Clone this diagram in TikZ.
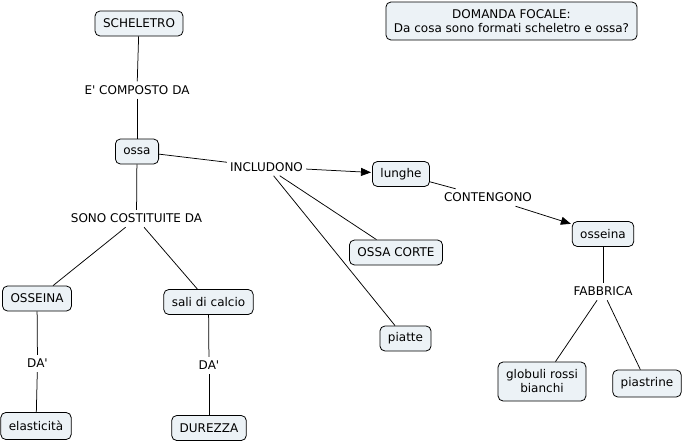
\documentclass[tikz,border=0pt]{standalone}
\usepackage{fontspec}
\setmainfont{DejaVu Sans}
\usetikzlibrary{arrows.meta}
\definecolor{boxfill}{RGB}{236,242,246}
\newcommand{\apos}{\XeTeXglyph\XeTeXcharglyph"27\relax}
\begin{document}
\begin{tikzpicture}[x=1pt,y=-1pt,
  concept/.style={draw=black, fill=boxfill, rounded corners=5pt, inner xsep=8pt, inner ysep=2pt,
    minimum height=25pt, align=center, font=\fontsize{12}{14}\selectfont, line width=0.8pt},
  linkword/.style={inner xsep=3pt, inner ysep=4pt, align=center, font=\fontsize{12}{14}\selectfont},
  conn/.style={line width=0.75pt, draw=black},
  arr/.style={conn, -{Triangle[length=10pt,width=8pt]}, shorten >=1pt}]
\useasboundingbox (0,0) rectangle (683,442);
% concepts
\node[concept] (schel) at (139,23.5) {SCHELETRO};
\node[concept] (ossa) at (137,151.5) {ossa};
\node[concept] (lunghe) at (401,174) {lunghe};
\node[concept] (osseina) at (603,234) {osseina};
\node[concept] (corte) at (396,252.5) {OSSA CORTE};
\node[concept] (piatte) at (405.5,338.5) {piatte};
\node[concept, minimum height=39pt] (globuli) at (542,381.5) {globuli rossi\\bianchi};
\node[concept, minimum height=27pt] (piastrine) at (647,383.5) {piastrine};
\node[concept] (OSSEINA) at (37,298.5) {OSSEINA};
\node[concept] (sali) at (208.5,302) {sali di calcio};
\node[concept, minimum height=27pt] (elast) at (36,426) {elasticità};
\node[concept] (durezza) at (209,428) {DUREZZA};
\node[concept, minimum height=38pt, inner xsep=8pt] (focal) at (511.5,21) {DOMANDA FOCALE:\\Da cosa sono formati scheletro e ossa?};
% linking words
\node[linkword] (compo) at (137,90) {E\apos{} COMPOSTO DA};
\node[linkword] (incl) at (266.5,167) {INCLUDONO};
\node[linkword] (cont) at (488,197.5) {CONTENGONO};
\node[linkword] (fabb) at (603,291.5) {FABBRICA};
\node[linkword] (sono) at (136.5,218.5) {SONO COSTITUITE DA};
\node[linkword] (da1) at (37.5,363.5) {DA\apos};
\node[linkword] (da2) at (209,365.5) {DA\apos};
% connectors
\draw[conn] (schel) -- (compo);
\draw[conn] (compo) -- (ossa);
\draw[conn] (ossa) -- (incl);
\draw[arr] (incl) -- (lunghe);
\draw[conn] (incl) -- (corte);
\draw[conn] (incl) -- (piatte);
\draw[conn] (lunghe) -- (cont);
\draw[arr] (cont) -- (osseina);
\draw[conn] (osseina) -- (fabb);
\draw[conn] (fabb) -- (globuli);
\draw[conn] (fabb) -- (piastrine);
\draw[conn] (ossa) -- (sono);
\draw[conn] (sono) -- (OSSEINA);
\draw[conn] (sono) -- (sali);
\draw[conn] (OSSEINA) -- (da1);
\draw[conn] (da1) -- (elast);
\draw[conn] (sali) -- (da2);
\draw[conn] (da2) -- (durezza);
\end{tikzpicture}
\end{document}
